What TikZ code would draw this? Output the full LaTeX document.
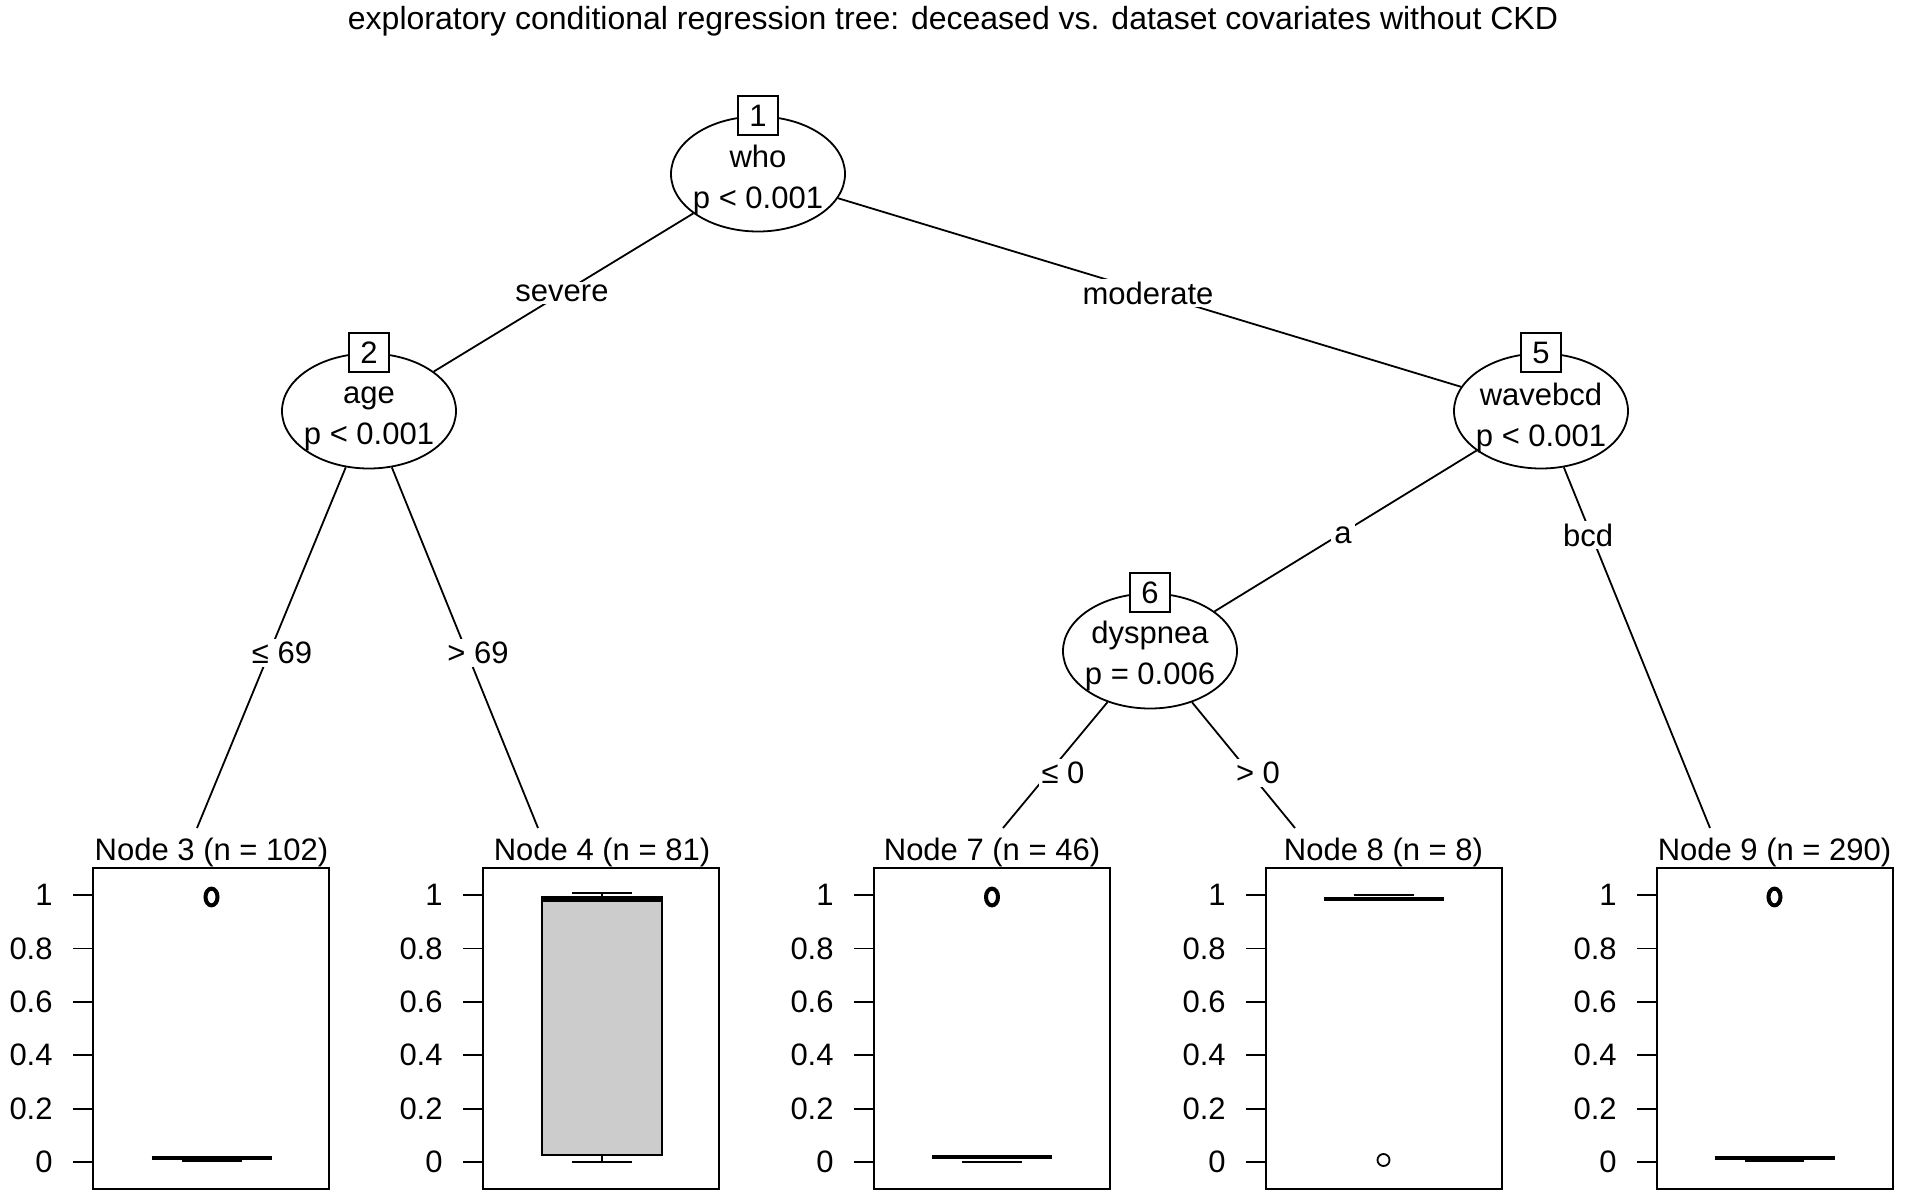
\documentclass[tikz,border=0pt]{standalone}
\usepackage{fontspec}
\setmainfont{Liberation Sans}
\usetikzlibrary{shapes.geometric}

\begin{document}
\begin{tikzpicture}[x=0.5pt,y=0.5pt,yscale=-1,xscale=1,
  split/.style={draw,ellipse,fill=white,line width=0.9pt,minimum width=87pt,minimum height=57.5pt,inner sep=0pt},
  splittxt/.style={align=center,inner sep=0pt,font=\fontsize{15.5}{20.5}\selectfont},
  idbox/.style={draw,fill=white,line width=0.9pt,minimum width=20pt,minimum height=19.5pt,inner sep=0pt,font=\fontsize{15.5}{18}\selectfont},
  edgelab/.style={fill=white,inner sep=1.5pt,font=\fontsize{15.5}{18}\selectfont},
  leaftitle/.style={anchor=base,inner sep=0pt,font=\fontsize{15.5}{18}\selectfont},
  ticklab/.style={anchor=east,inner sep=0pt,font=\fontsize{15.5}{18}\selectfont},
  panel/.style={line width=0.9pt},
  medianline/.style={line width=2.4pt},
  outlier/.style={line width=2pt}]
\useasboundingbox (0,0) rectangle (1908,1199);

% Text Node
\draw (953,21) node [font=\fontsize{16}{19}\selectfont] (title) {exploratory conditional regression tree: deceased vs. dataset covariates without CKD};

%Shape: Ellipse [inner nodes]
\node [split] (n1) at (758,174) {};
\node [split] (n2) at (369,411) {};
\node [split] (n5) at (1541,411) {};
\node [split] (n6) at (1150,651) {};
\node [idbox] (n1id) at (n1.north) {1};
\node [idbox] (n2id) at (n2.north) {2};
\node [idbox] (n5id) at (n5.north) {5};
\node [idbox] (n6id) at (n6.north) {6};
% Text Node
\node [splittxt] (n1txt) at (758,180) {who\\p < 0.001};
\node [splittxt] (n2txt) at (369,419) {age\\p < 0.001};
\node [splittxt] (n5txt) at (1541,418) {wavebcd\\p < 0.001};
\node [splittxt] (n6txt) at (1150,656) {dyspnea\\p = 0.006};

% leaf tops
\coordinate (c3) at (197,828);
\coordinate (c4) at (538,828);
\coordinate (c7) at (1003,828);
\coordinate (c8) at (1295,828);
\coordinate (c9) at (1710,828);

%Straight Lines [edges]
\draw [line width=0.9pt] (n1) -- (n2) (n1) -- (n5);
\draw [line width=0.9pt] (n2) -- (c3) (n2) -- (c4);
\draw [line width=0.9pt] (n5) -- (n6) (n5) -- (c9);
\draw [line width=0.9pt] (n6) -- (c7) (n6) -- (c8);

% Text Node
\node [edgelab] (l2) at (562,293) {severe};
\node [edgelab] (l5) at (1148,293) {moderate};
\node [edgelab] (l3) at (282,653) {≤ 69};
\node [edgelab] (l4) at (478,653) {> 69};
\node [edgelab] (l6) at (1343,535) {a};
\node [edgelab] (l9) at (1588,535) {bcd};
\node [edgelab] (l7) at (1063,773) {≤ 0};
\node [edgelab] (l8) at (1258,773) {> 0};

%Shape: Rectangle [panels with axis]
\foreach \L/\k in {93/3,483/4,874/7,1266/8,1657/9}{
  \draw [panel] (\L,868) rectangle ++(236,321);
  \foreach \v/\t in {0/a,0.2/b,0.4/c,0.6/d,0.8/e,1/f}{
    \draw [panel] (\L-20,1162-267*\v) -- (\L,1162-267*\v);
    \node [ticklab] (y\k\t) at (\L-40,1162-267*\v) {\v};
  }
}

% Text Node
\node [leaftitle] (t3) at (211.5,860) {Node 3 (n = 102)};
\node [leaftitle] (t4) at (602,860) {Node 4 (n = 81)};
\node [leaftitle] (t7) at (992,860) {Node 7 (n = 46)};
\node [leaftitle] (t8) at (1383.5,860) {Node 8 (n = 8)};
\node [leaftitle] (t9) at (1774.5,860) {Node 9 (n = 290)};

%Boxplot [node 3]
\draw [medianline] (151.5,1158) -- (271.5,1158);
\draw [line width=3.4pt] (181.5,1159) -- (241.5,1159);
\draw [outlier] (211.5,897) ellipse [x radius=3pt,y radius=4.2pt];
%Boxplot [node 4]
\draw [panel,fill=gray!40] (542,897) rectangle (662,1155);
\draw [medianline] (542,900) -- (662,900);
\draw [panel] (602,897) -- (602,893) (572,893) -- (632,893);
\draw [panel] (602,1155) -- (602,1162) (572,1162) -- (632,1162);
%Boxplot [node 7]
\draw [medianline] (932,1157) -- (1052,1157);
\draw [panel] (962,1162) -- (1022,1162);
\draw [outlier] (992,897) ellipse [x radius=3pt,y radius=4.2pt];
%Boxplot [node 8]
\draw [medianline] (1323.5,899) -- (1443.5,899);
\draw [panel] (1353.5,895) -- (1413.5,895);
\draw [panel] (1383.5,1160) circle [radius=3pt];
%Boxplot [node 9]
\draw [medianline] (1714.5,1158) -- (1834.5,1158);
\draw [line width=3.4pt] (1745,1159) -- (1804,1159);
\draw [outlier] (1774.5,897) ellipse [x radius=3pt,y radius=4.2pt];

\end{tikzpicture}
\end{document}
